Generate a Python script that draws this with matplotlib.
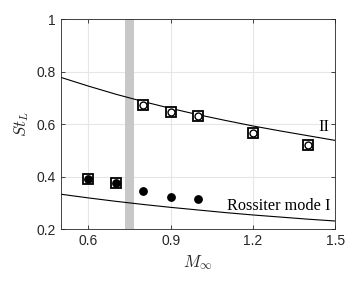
import matplotlib
matplotlib.use("Agg")
import matplotlib.pyplot as plt

plt.rcParams["font.family"] = ["Liberation Sans", "DejaVu Sans"]
plt.rcParams["mathtext.fontset"] = "cm"

# Rossiter curves
mach_curve = [0.5, 0.6, 0.7, 0.8, 0.9, 1.0, 1.1, 1.2, 1.3, 1.4, 1.5]
ross_I = [0.333, 0.319, 0.306, 0.294, 0.283, 0.273, 0.263, 0.254, 0.246, 0.238, 0.231]
ross_II = [0.778, 0.745, 0.714, 0.686, 0.660, 0.636, 0.614, 0.593, 0.574, 0.556, 0.538]

# measured peaks
mach_I = [0.6, 0.7, 0.8, 0.9, 1.0]
st_I = [0.390, 0.374, 0.346, 0.323, 0.313]
mach_II = [0.8, 0.9, 1.0, 1.2, 1.4]
st_II = [0.671, 0.647, 0.630, 0.565, 0.520]
# points marked with a square
mach_sq = [0.6, 0.7, 0.8, 0.9, 1.0, 1.2, 1.4]
st_sq = [0.390, 0.374, 0.671, 0.647, 0.630, 0.565, 0.520]

band = (0.735, 0.768)

fig = plt.figure(figsize=(3.6, 2.85), dpi=100)
ax = fig.add_axes([0.169, 0.196, 0.762, 0.737])

ax.axvspan(*band, color="#c8c8c8", lw=0, zorder=1)
ax.plot(mach_curve, ross_I, "k-", lw=0.8, zorder=2)
ax.plot(mach_curve, ross_II, "k-", lw=0.8, zorder=2)

ax.plot(mach_sq, st_sq, "s", ms=7, mfc="white", mec="black", mew=1.3,
        ls="none", zorder=3)
ax.plot(mach_I, st_I, "o", ms=5.3, mfc="black", mec="black", ls="none", zorder=4)
ax.plot(mach_II, st_II, "o", ms=5, mfc="white", mec="black", mew=1.0,
        ls="none", zorder=4)

ax.text(1.107, 0.289, "Rossiter mode I", family="Liberation Serif",
        fontsize=11.7, va="center", ha="left")
ax.text(1.437, 0.59, "II", family="Liberation Serif", fontsize=11.7,
        va="center", ha="left")

ax.set_xlim(0.5, 1.5)
ax.set_ylim(0.2, 1.0)
ax.set_xticks([0.6, 0.9, 1.2, 1.5])
ax.set_yticks([0.2, 0.4, 0.6, 0.8, 1.0])
ax.set_yticklabels(["0.2", "0.4", "0.6", "0.8", "1"])
ax.grid(True, color="#e6e6e6", lw=0.8)
ax.set_axisbelow(True)
ax.tick_params(direction="in", length=3, width=0.6, colors="#262626",
               labelsize=10, top=True, right=True)
for s in ax.spines.values():
    s.set_color("#262626")
    s.set_linewidth(0.6)

ax.set_xlabel(r"$M_\infty$", fontsize=12, color="#262626")
ax.set_ylabel(r"$St_L$", fontsize=12, color="#262626")

fig.savefig("out.png", dpi=100)
